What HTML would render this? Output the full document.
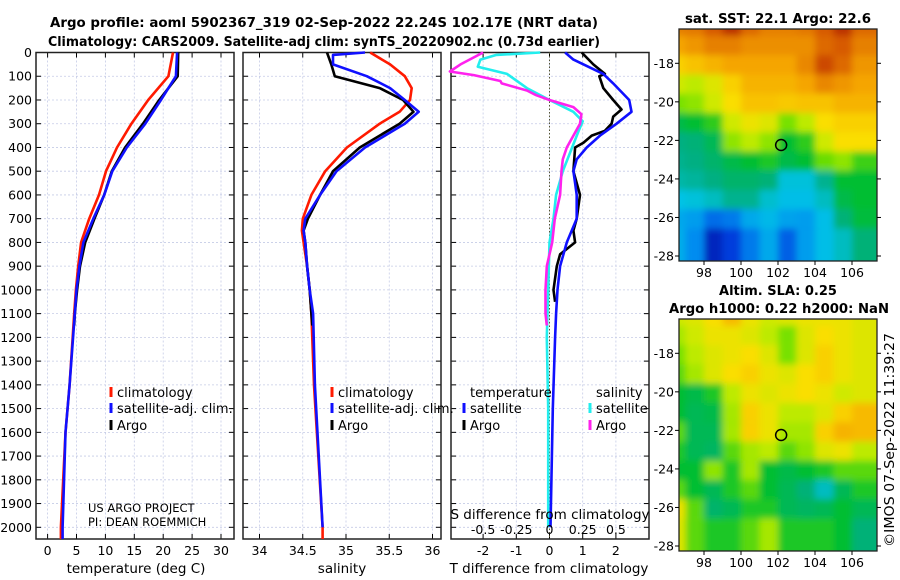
<!DOCTYPE html>
<html><head><meta charset="utf-8"><style>
html,body{margin:0;padding:0;background:#fff;}
svg{display:block;font-family:"DejaVu Sans","Liberation Sans",sans-serif;}
</style></head><body>
<svg id="chart" width="900" height="580" viewBox="0 0 900 580" xmlns="http://www.w3.org/2000/svg">
<defs><filter id="blurf" x="-10%" y="-10%" width="120%" height="120%"><feGaussianBlur stdDeviation="3.5"/></filter></defs>
<text x="324" y="27" text-anchor="middle" font-weight="bold" font-size="13.5" textLength="548" lengthAdjust="spacingAndGlyphs">Argo profile: aoml 5902367_319 02-Sep-2022 22.24S 102.17E (NRT data)</text>
<text x="324" y="46" text-anchor="middle" font-weight="bold" font-size="13.5" textLength="552" lengthAdjust="spacingAndGlyphs">Climatology: CARS2009. Satellite-adj clim: synTS_20220902.nc (0.73d earlier)</text>
<text x="778" y="23" text-anchor="middle" font-weight="bold" font-size="13" textLength="186" lengthAdjust="spacingAndGlyphs">sat. SST: 22.1 Argo: 22.6</text>
<text x="778" y="295" text-anchor="middle" font-weight="bold" font-size="13">Altim. SLA: 0.25</text>
<text x="779" y="313" text-anchor="middle" font-weight="bold" font-size="13" textLength="220" lengthAdjust="spacingAndGlyphs">Argo h1000: 0.22 h2000: NaN</text>
<text transform="translate(894,440) rotate(-90)" text-anchor="middle" font-size="13" textLength="214" lengthAdjust="spacingAndGlyphs">©IMOS 07-Sep-2022 11:39:27</text>
<g id="plots"></g>
</svg>
<script>
// ---- data ----
const depthTicks = [0,100,200,300,400,500,600,700,800,900,1000,1100,1200,1300,1400,1500,1600,1700,1800,1900,2000];
const tempTicks = [0,5,10,15,20,25,30];
const salTicks = [34,34.5,35,35.5,36];
const tdiffTicks = [-2,-1,0,1,2];
const sdiffTicks = [-0.5,-0.25,0,0.25,0.5];

const climDepth = [0,100,200,300,400,500,600,700,800,900,1000,1100,1400,1600,2000,2060];
const tempClim  = [21.7,20.9,17.4,14.5,12.0,10.1,8.9,7.2,5.8,5.3,4.9,4.6,3.8,3.1,2.3,2.3];
const tempSat   = [22.4,22.2,19.6,16.9,13.7,11.2,9.8,7.9,6.2,5.5,5.0,4.7,3.8,3.1,2.6,2.6];
const argoDepth = [0,100,200,300,400,500,600,700,800,900,1000,1100,1150];
const tempArgo  = [22.6,22.5,19.3,16.5,13.4,11.1,9.8,8.1,6.5,5.6,5.1,4.7,4.6];

const salDepth  = [0,50,100,150,200,250,300,400,500,600,700,750,800,900,1000,1100,1400,2000,2060];
const salClim   = [35.28,35.51,35.68,35.76,35.74,35.62,35.39,35.01,34.76,34.60,34.50,34.49,34.51,34.55,34.58,34.60,34.63,34.73,34.73];
const salSatDepth=[0,10,50,100,150,200,250,300,400,500,600,700,750,800,900,1000,1100,1400,2000];
const salSat    = [35.22,34.85,34.85,35.24,35.51,35.68,35.84,35.68,35.22,34.89,34.70,34.53,34.51,34.53,34.55,34.58,34.62,34.64,34.73];
const salArgoDepth=[0,50,100,150,200,250,300,400,500,600,700,750,800,900,1000,1100,1150];
const salArgo   = [34.78,34.83,34.87,35.39,35.66,35.78,35.62,35.16,34.85,34.70,34.56,34.51,34.53,34.55,34.58,34.60,34.61];

const tdArgoDepth=[0,50,90,100,150,200,240,270,300,330,350,380,400,500,600,700,750,800,850,900,1000,1050];
const tdArgo    = [0.97,1.32,1.67,1.5,1.62,1.92,2.17,1.92,1.87,1.67,1.27,1.02,0.77,0.72,0.92,0.82,0.72,0.77,0.32,0.22,0.12,0.17];
const tdSatDepth=[0,30,90,130,200,250,300,350,400,450,500,550,600,700,800,900,1000,1100,1200,1500,2000];
const tdSat     = [0.47,0.72,1.62,1.92,2.4,2.47,2.02,1.52,1.12,0.82,0.72,0.77,0.82,0.82,0.52,0.32,0.24,0.2,0.17,0.1,0.03];
const sdSatDepth=[0,10,30,60,90,150,200,250,290,330,400,500,600,700,800,1000,1200,1500,2000];
const sdSat     = [-0.07,-0.40,-0.52,-0.54,-0.32,-0.17,0.0,0.18,0.25,0.22,0.17,0.10,0.05,0.03,0.0,-0.01,-0.02,-0.01,-0.01];
const sdArgoDepth=[0,50,80,95,120,130,160,180,200,230,260,300,350,400,450,500,600,700,800,900,1000,1050,1100,1150];
const sdArgo    = [-0.50,-0.67,-0.75,-0.57,-0.37,-0.36,-0.17,-0.10,0.0,0.18,0.24,0.23,0.18,0.13,0.10,0.09,0.08,0.04,0.02,-0.02,-0.03,-0.03,-0.03,-0.02];

const lonTicks = [98,100,102,104,106];
const latTicks = [-18,-20,-22,-24,-26,-28];
const sstGrid = [
 [0.85,0.86,0.9,0.95,0.88,0.85,0.85,0.86,0.9,0.95,0.88],
 [0.8,0.82,0.85,0.85,0.83,0.83,0.83,0.83,0.88,0.9,0.85],
 [0.74,0.76,0.78,0.8,0.8,0.8,0.8,0.84,0.92,0.88,0.82],
 [0.66,0.64,0.68,0.74,0.78,0.78,0.78,0.8,0.84,0.82,0.8],
 [0.58,0.6,0.66,0.72,0.76,0.76,0.75,0.76,0.76,0.78,0.78],
 [0.48,0.5,0.53,0.66,0.7,0.68,0.58,0.64,0.72,0.74,0.74],
 [0.43,0.44,0.47,0.6,0.64,0.6,0.5,0.53,0.66,0.72,0.72],
 [0.42,0.43,0.45,0.48,0.5,0.52,0.48,0.5,0.57,0.6,0.54],
 [0.4,0.41,0.43,0.45,0.45,0.44,0.36,0.36,0.42,0.5,0.5],
 [0.35,0.36,0.38,0.42,0.42,0.37,0.34,0.34,0.38,0.48,0.5],
 [0.3,0.28,0.2,0.22,0.3,0.33,0.29,0.28,0.34,0.44,0.49],
 [0.31,0.25,0.08,0.12,0.22,0.3,0.18,0.28,0.34,0.38,0.44]];
const slaGrid = [
 [0.66,0.68,0.72,0.77,0.7,0.66,0.68,0.7,0.7,0.7,0.68],
 [0.62,0.66,0.7,0.7,0.68,0.64,0.58,0.68,0.72,0.7,0.68],
 [0.58,0.64,0.68,0.7,0.72,0.68,0.58,0.68,0.74,0.7,0.68],
 [0.56,0.62,0.68,0.72,0.74,0.7,0.68,0.72,0.74,0.7,0.68],
 [0.5,0.48,0.52,0.64,0.7,0.68,0.7,0.72,0.7,0.66,0.68],
 [0.5,0.47,0.48,0.62,0.74,0.7,0.64,0.64,0.68,0.74,0.77],
 [0.56,0.47,0.47,0.62,0.74,0.7,0.62,0.62,0.74,0.78,0.77],
 [0.52,0.47,0.46,0.56,0.62,0.64,0.56,0.6,0.68,0.7,0.64],
 [0.5,0.5,0.6,0.52,0.62,0.5,0.48,0.5,0.52,0.56,0.56],
 [0.56,0.5,0.47,0.52,0.56,0.5,0.47,0.44,0.38,0.47,0.52],
 [0.7,0.56,0.45,0.47,0.52,0.52,0.47,0.46,0.47,0.5,0.47],
 [0.68,0.56,0.52,0.52,0.56,0.62,0.52,0.52,0.52,0.5,0.44]];
const argoLon = 102.17, argoLat = -22.24;

// ---- helpers ----
const NS = "http://www.w3.org/2000/svg";
const root = document.getElementById('plots');
function mk(tag, attrs, parent){ const e=document.createElementNS(NS,tag); for(const k in attrs) e.setAttribute(k,attrs[k]); (parent||root).appendChild(e); return e; }
const Y0=52.5, Y1=539, yOf = d => Y0 + d*0.2374;
const panels = [
 {name:'temperature', x0:36, x1:234, f:v=>47.6+v*5.78},
 {name:'salinity', x0:243, x1:441, f:v=>259.5+(v-34)*86.5},
 {name:'difference', x0:451, x1:649, f:v=>549.5+v*33.2}
];
const sx = v => panels[2].f(v*4);

panels.forEach((p,i)=>{
  const g = mk('g',{});
  
  
  depthTicks.forEach(d=>{
    const y=yOf(d);
    mk('line',{x1:p.x0,x2:p.x1,y1:y,y2:y,stroke:'#c5cbe6','stroke-width':0.8,'stroke-dasharray':'2,2'},g);
    mk('line',{x1:p.x0,x2:p.x0+5,y1:y,y2:y,stroke:'#000','stroke-width':1},g);
    mk('line',{x1:p.x1-5,x2:p.x1,y1:y,y2:y,stroke:'#000','stroke-width':1},g);
  });
  const ticks = i===0?tempTicks:(i===1?salTicks:tdiffTicks);
  ticks.forEach(t=>{
    const x=p.f(t);
    mk('line',{x1:x,x2:x,y1:Y0,y2:Y1,stroke:'#c5cbe6','stroke-width':0.8,'stroke-dasharray':'2,2'},g);
    mk('line',{x1:x,x2:x,y1:Y1-5,y2:Y1,stroke:'#000'},g);
    mk('line',{x1:x,x2:x,y1:Y0,y2:Y0+5,stroke:'#000'},g);
    const tl=mk('text',{x:x,y:555,'text-anchor':'middle','font-size':12.5},g);
    
    
    tl.textContent = String(t);
  });
  mk('rect',{x:p.x0,y:Y0,width:p.x1-p.x0,height:Y1-Y0,fill:'none',stroke:'#222','stroke-width':1.5},g);
});
depthTicks.forEach(d=>{
  const t=mk('text',{x:32,y:yOf(d)+4.5,'text-anchor':'end','font-size':12.5});
  
  
  t.textContent=d;
});
[['temperature (deg C)',136,'temperature-axis-title'],['salinity',342,'salinity-axis-title'],['T difference from climatology',549,'tdiff-axis-title']].forEach(a=>{
  const t=mk('text',{x:a[1],y:573,'text-anchor':'middle','font-size':13.5});
  
  
  t.textContent=a[0];
});
const zl=mk('line',{x1:panels[2].f(0),x2:panels[2].f(0),y1:Y0,y2:Y1,stroke:'#555533','stroke-width':1,'stroke-dasharray':'1.5,2'});



function line(depths, vals, f, color, name){
  const pts = depths.map((d,k)=>f(vals[k]).toFixed(1)+','+Math.min(yOf(d),Y1).toFixed(1)).join(' ');
  const pl = mk('polyline',{points:pts,fill:'none',stroke:color,'stroke-width':2.6,'stroke-linejoin':'round'});
  
  
}
line(climDepth,tempClim,panels[0].f,'#ff1a00','temp-climatology-line');
line(argoDepth,tempArgo,panels[0].f,'#000','temp-argo-line');
line(climDepth,tempSat,panels[0].f,'#1010ff','temp-satellite-line');
line(salDepth,salClim,panels[1].f,'#ff1a00','sal-climatology-line');
line(salArgoDepth,salArgo,panels[1].f,'#000','sal-argo-line');
line(salSatDepth,salSat,panels[1].f,'#1010ff','sal-satellite-line');
line(sdSatDepth,sdSat,sx,'#22eeee','sdiff-satellite-line');
line(sdArgoDepth,sdArgo,sx,'#ff22ee','sdiff-argo-line');
line(tdArgoDepth,tdArgo,panels[2].f,'#000','tdiff-argo-line');
line(tdSatDepth,tdSat,panels[2].f,'#1010ff','tdiff-satellite-line');

function legend(x,y,color,label,name){
  const g=mk('g',{});
  
  
  mk('rect',{x:x-1.5,y:y-10,width:3,height:10,fill:color},g);
  const t=mk('text',{x:x+6,y:y,'font-size':13},g); t.textContent=label;
}
legend(111,397,'#ff1a00','climatology','legend-climatology');
legend(111,413,'#1010ff','satellite-adj. clim.','legend-satellite-adj');
legend(111,430,'#000','Argo','legend-argo');
legend(332,397,'#ff1a00','climatology','legend-climatology-sal');
legend(332,413,'#1010ff','satellite-adj. clim.','legend-satellite-adj-sal');
legend(332,430,'#000','Argo','legend-argo-sal');
legend(464,413,'#1010ff','satellite','legend-t-satellite');
legend(464,430,'#000','Argo','legend-t-argo');
legend(590,413,'#22eeee','satellite','legend-s-satellite');
legend(590,430,'#ff22ee','Argo','legend-s-argo');
[['temperature',470,397,'legend-temperature-header'],['salinity',596,397,'legend-salinity-header'],
 ['US ARGO PROJECT',88,512,'project-label'],['PI: DEAN ROEMMICH',88,526,'pi-label']].forEach(a=>{
  const t=mk('text',{x:a[1],y:a[2],'font-size':a[1]<100?11.5:13});
  
  
  t.textContent=a[0];
});
const sdt=mk('text',{x:550,y:519,'text-anchor':'middle','font-size':13.5});


sdt.textContent='S difference from climatology';
sdiffTicks.forEach(v=>{
  const t=mk('text',{x:sx(v),y:534,'text-anchor':'middle','font-size':12.5});
  
  
  t.textContent=String(v);
});

// ---- maps ----
function cmap(v){
  const st=[[0,[0,0,130]],[0.12,[0,60,220]],[0.25,[0,140,240]],[0.35,[0,195,230]],[0.43,[0,175,130]],[0.5,[0,190,50]],[0.58,[120,225,0]],[0.65,[200,235,0]],[0.72,[250,222,0]],[0.8,[245,165,0]],[0.9,[215,90,0]],[1,[160,10,0]]];
  v=Math.max(0,Math.min(1,v));
  for(let i=1;i<st.length;i++){ if(v<=st[i][0]){ const a=st[i-1],b=st[i],t=(v-a[0])/(b[0]-a[0]);
    return 'rgb('+a[1].map((c,k)=>Math.round(c+(b[1][k]-c)*t)).join(',')+')'; } }
  return 'rgb(160,10,0)';
}
function map(grid, top, name, cid){
  const X0=679,X1=877,Yt=top,Yb=top+232;
  const lx=lon=>704+(lon-98)*18.5, ly=lat=>(top+34.3)+(-18-lat)*19.27;
  const g=mk('g',{});
  
  
  const cp=mk('clipPath',{id:cid},g); mk('rect',{x:X0,y:Yt,width:X1-X0,height:Yb-Yt},cp);
  const cells=mk('g',{'clip-path':'url(#'+cid+')'},g);
  const inner=mk('g',{filter:'url(#blurf)'},cells);
  const lon0=96.65, lat0=-16.2;
  grid.forEach((row,r)=>row.forEach((v,c)=>{
    const x=lx(lon0+c), y=ly(lat0-r);
    const rc=mk('rect',{x:x-12,y:y-12,width:18.5+24,height:19.27+24,fill:cmap(v)},inner);
    
    
  }));
  mk('rect',{x:X0,y:Yt,width:X1-X0,height:Yb-Yt,fill:'none',stroke:'#222','stroke-width':1.3},g);
  lonTicks.forEach(l=>{ const x=lx(l);
    mk('line',{x1:x,x2:x,y1:Yb,y2:Yb+4,stroke:'#000'},g);
    const t=mk('text',{x:x,y:Yb+16,'text-anchor':'middle','font-size':12.5},g);
      t.textContent=l; });
  latTicks.forEach(l=>{ const y=ly(l);
    mk('line',{x1:X0-4,x2:X0,y1:y,y2:y,stroke:'#000'},g);
    mk('line',{x1:X1,x2:X1+4,y1:y,y2:y,stroke:'#000'},g);
    const t=mk('text',{x:X0-5,y:y+4.5,'text-anchor':'end','font-size':12.5},g);
      t.textContent=l; });
  const c=mk('circle',{cx:lx(argoLon),cy:ly(argoLat),r:5.5,fill:'none',stroke:'#000','stroke-width':1.5},g);
  
  
}
map(sstGrid,29,'sst-map','clip1');
map(slaGrid,319,'sla-map','clip2');
</script>
</body></html>
